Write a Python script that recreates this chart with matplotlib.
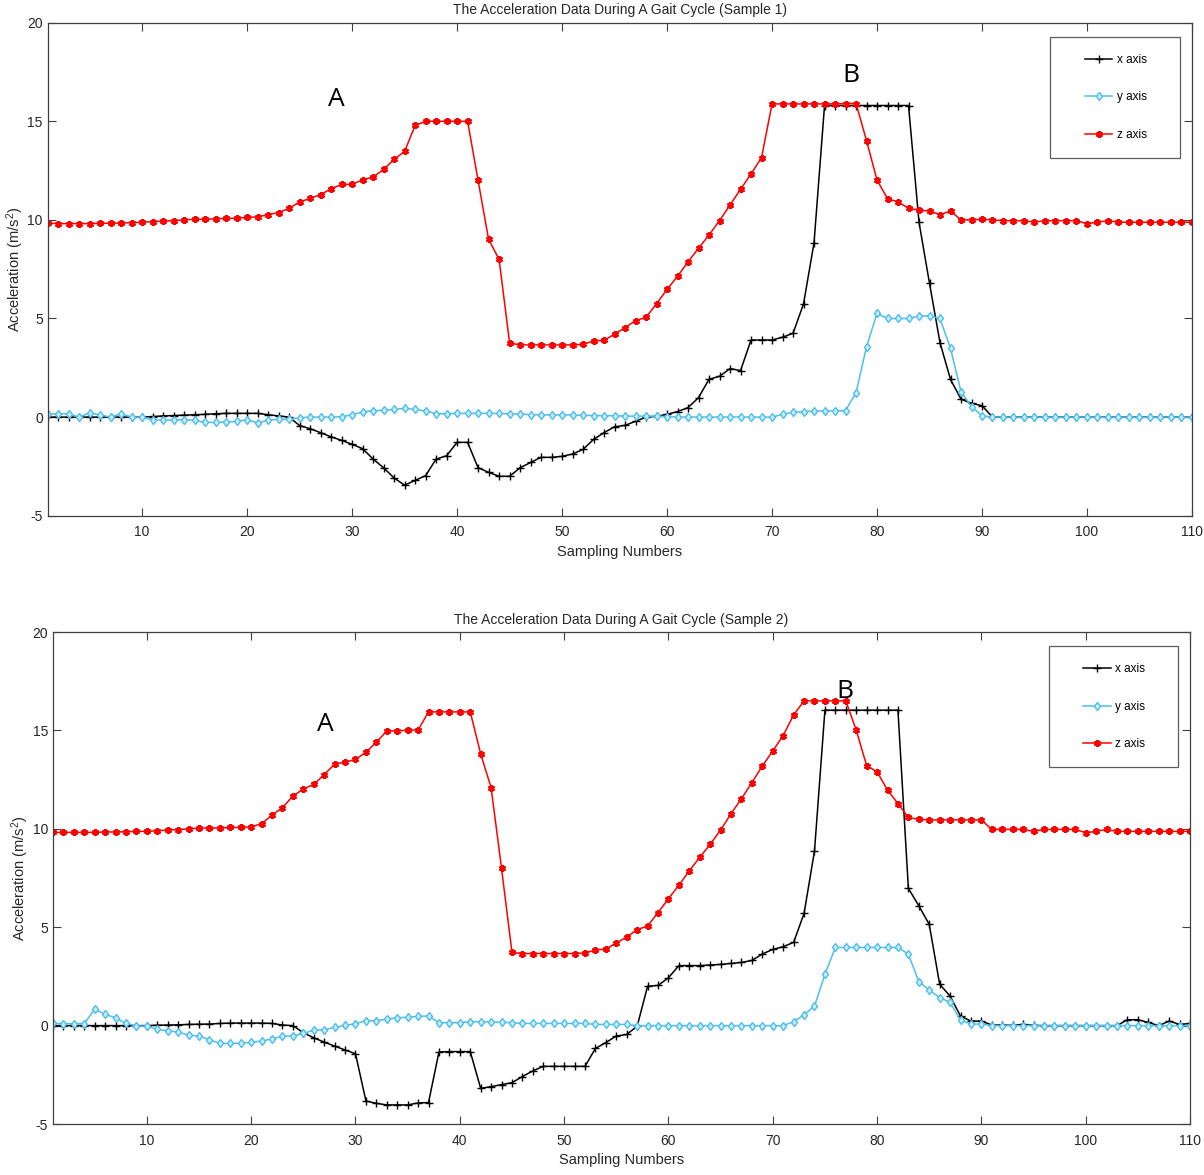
import matplotlib
matplotlib.use("Agg")
import matplotlib.pyplot as plt
from matplotlib.legend_handler import HandlerLine2D
import numpy as np

plt.rcParams['font.family'] = ['Liberation Sans', 'DejaVu Sans']
plt.rcParams['mathtext.default'] = 'regular'
plt.rcParams['axes.unicode_minus'] = False

samples = np.arange(1, 111)

# ---- Sample 1 ----
x1 = [0.0, 0.0, 0.0, 0.0, 0.0, 0.0, 0.0, 0.0, 0.0, 0.0,
      0.03, 0.06, 0.08, 0.1, 0.12, 0.14, 0.17, 0.19, 0.19, 0.19,
      0.19, 0.12, 0.06, 0.0, -0.43, -0.59, -0.79, -1.0, -1.18, -1.38,
      -1.6, -2.13, -2.57, -3.09, -3.45, -3.21, -2.97, -2.13, -1.96, -1.28,
      -1.28, -2.57, -2.8, -3.0, -3.0, -2.57, -2.3, -2.04, -2.04, -1.99,
      -1.87, -1.64, -1.13, -0.79, -0.49, -0.42, -0.21, 0.0, 0.04, 0.14,
      0.28, 0.48, 0.99, 1.92, 2.07, 2.46, 2.36, 3.91, 3.91, 3.91,
      4.05, 4.25, 5.74, 8.84, 15.8, 15.8, 15.8, 15.8, 15.8, 15.8,
      15.8, 15.8, 15.8, 9.88, 6.78, 3.77, 1.91, 0.91, 0.7, 0.58,
      0.0, 0.0, 0.0, 0.0, 0.0, 0.0, 0.0, 0.0, 0.0, 0.0,
      0.0, 0.0, 0.0, 0.0, 0.0, 0.0, 0.0, 0.0, 0.0, 0.0]
y1 = [0.14, 0.17, 0.17, -0.01, 0.22, 0.11, 0.0, 0.17, 0.0, 0.0,
      -0.15, -0.15, -0.15, -0.13, -0.17, -0.27, -0.27, -0.25, -0.22, -0.13,
      -0.3, -0.15, -0.11, -0.11, -0.03, 0.0, 0.0, 0.0, 0.02, 0.12,
      0.26, 0.33, 0.34, 0.39, 0.44, 0.39, 0.31, 0.17, 0.17, 0.19,
      0.19, 0.19, 0.19, 0.19, 0.16, 0.16, 0.12, 0.12, 0.11, 0.11,
      0.11, 0.09, 0.08, 0.07, 0.07, 0.05, 0.05, 0.05, 0.05, 0.02,
      0.0, 0.0, 0.0, 0.0, 0.0, 0.0, 0.0, 0.0, 0.0, 0.0,
      0.14, 0.24, 0.28, 0.31, 0.31, 0.31, 0.33, 1.24, 3.57, 5.26,
      5.0, 5.0, 5.0, 5.13, 5.13, 5.0, 3.48, 1.29, 0.53, 0.07,
      0.0, 0.0, 0.0, 0.0, 0.0, 0.0, 0.0, 0.0, 0.0, 0.0,
      0.0, 0.0, 0.0, 0.0, 0.0, 0.0, 0.0, 0.0, 0.0, 0.0]
z1 = [9.83, 9.81, 9.81, 9.81, 9.81, 9.83, 9.83, 9.84, 9.86, 9.88,
      9.91, 9.94, 9.96, 10.0, 10.03, 10.03, 10.05, 10.08, 10.08, 10.13,
      10.15, 10.27, 10.37, 10.59, 10.91, 11.09, 11.28, 11.58, 11.8, 11.8,
      12.04, 12.17, 12.56, 13.07, 13.47, 14.79, 15.0, 15.0, 15.0, 15.0,
      15.0, 12.0, 9.01, 8.0, 3.76, 3.66, 3.66, 3.66, 3.66, 3.66,
      3.66, 3.69, 3.86, 3.89, 4.21, 4.54, 4.89, 5.06, 5.75, 6.48,
      7.14, 7.88, 8.56, 9.24, 9.96, 10.76, 11.55, 12.33, 13.16, 15.88,
      15.88, 15.88, 15.88, 15.88, 15.88, 15.88, 15.9, 15.9, 14.02, 12.02,
      11.08, 10.91, 10.59, 10.49, 10.45, 10.27, 10.45, 10.0, 10.0, 10.03,
      10.0, 9.96, 9.96, 9.96, 9.88, 9.96, 9.96, 9.96, 9.96, 9.81,
      9.88, 9.96, 9.88, 9.88, 9.88, 9.88, 9.88, 9.88, 9.88, 9.88]

# ---- Sample 2 ----
x2 = [0.0, 0.0, 0.0, 0.0, 0.0, 0.0, 0.0, 0.0, 0.0, 0.0,
      0.02, 0.03, 0.04, 0.06, 0.07, 0.08, 0.11, 0.13, 0.13, 0.13,
      0.13, 0.11, 0.03, 0.0, -0.36, -0.62, -0.84, -1.04, -1.24, -1.43,
      -3.83, -3.95, -4.03, -4.03, -4.03, -3.93, -3.91, -1.34, -1.32, -1.32,
      -1.32, -3.19, -3.1, -3.0, -2.9, -2.59, -2.3, -2.07, -2.07, -2.07,
      -2.07, -2.07, -1.16, -0.86, -0.53, -0.45, -0.03, 2.0, 2.04, 2.43,
      3.05, 3.05, 3.05, 3.08, 3.11, 3.16, 3.21, 3.31, 3.64, 3.87,
      4.01, 4.23, 5.7, 8.87, 16.03, 16.03, 16.03, 16.03, 16.03, 16.03,
      16.03, 16.03, 6.97, 6.09, 5.14, 2.1, 1.5, 0.48, 0.23, 0.23,
      0.03, 0.03, 0.01, 0.06, 0.01, 0.0, 0.0, 0.0, 0.0, 0.0,
      0.0, 0.0, 0.0, 0.3, 0.3, 0.16, 0.0, 0.23, 0.06, 0.11]
y2 = [0.11, 0.1, 0.1, 0.1, 0.84, 0.57, 0.4, 0.11, -0.02, -0.02,
      -0.19, -0.26, -0.33, -0.48, -0.53, -0.72, -0.9, -0.9, -0.9, -0.85,
      -0.78, -0.68, -0.53, -0.53, -0.4, -0.23, -0.21, -0.09, 0.01, 0.1,
      0.25, 0.25, 0.33, 0.4, 0.42, 0.47, 0.49, 0.15, 0.15, 0.15,
      0.2, 0.2, 0.18, 0.17, 0.15, 0.11, 0.11, 0.11, 0.11, 0.11,
      0.11, 0.11, 0.06, 0.06, 0.06, 0.06, 0.0, 0.0, 0.0, 0.0,
      0.0, 0.0, 0.0, 0.0, 0.0, 0.0, 0.0, 0.0, 0.0, 0.0,
      0.0, 0.2, 0.54, 0.99, 2.6, 3.97, 3.97, 3.97, 3.97, 3.97,
      3.97, 3.97, 3.63, 2.23, 1.81, 1.42, 1.18, 0.28, 0.08, 0.08,
      0.0, 0.0, 0.0, 0.0, 0.0, 0.0, 0.0, 0.0, 0.0, 0.0,
      0.0, 0.0, 0.0, 0.0, 0.0, 0.0, 0.0, 0.0, 0.0, 0.0]
z2 = [9.82, 9.82, 9.82, 9.82, 9.82, 9.84, 9.84, 9.85, 9.87, 9.87,
      9.9, 9.94, 9.96, 9.99, 10.04, 10.04, 10.04, 10.07, 10.07, 10.1,
      10.26, 10.7, 11.07, 11.67, 12.02, 12.26, 12.75, 13.29, 13.38, 13.53,
      13.89, 14.4, 14.97, 14.97, 15.02, 15.02, 15.94, 15.94, 15.94, 15.94,
      15.94, 13.81, 12.09, 7.99, 3.72, 3.66, 3.66, 3.66, 3.66, 3.66,
      3.66, 3.69, 3.84, 3.89, 4.2, 4.5, 4.88, 5.06, 5.74, 6.45,
      7.13, 7.87, 8.55, 9.21, 9.94, 10.77, 11.53, 12.35, 13.19, 13.96,
      14.74, 15.79, 16.5, 16.5, 16.5, 16.5, 16.5, 15.02, 13.21, 12.9,
      11.97, 11.28, 10.58, 10.48, 10.45, 10.45, 10.45, 10.45, 10.45, 10.45,
      9.97, 9.97, 9.97, 9.97, 9.87, 9.97, 9.97, 9.97, 9.97, 9.8,
      9.87, 9.97, 9.87, 9.87, 9.87, 9.87, 9.87, 9.87, 9.87, 9.87]

titles = ["The Acceleration Data During A Gait Cycle (Sample 1)",
          "The Acceleration Data During A Gait Cycle (Sample 2)"]
series_labels = ["x axis", "y axis", "z axis"]
xticks = [10, 20, 30, 40, 50, 60, 70, 80, 90, 100, 110]
yticks = [-5, 0, 5, 10, 15, 20]
annots = [[("A", 28.5, 16.1), ("B", 77.5, 17.3)],
          [("A", 27.1, 15.3), ("B", 76.9, 17.0)]]

fig = plt.figure(figsize=(12.04, 11.75), dpi=100)
rects = [[0.0396, 0.5611, 0.9504, 0.4196],
         [0.0440, 0.0434, 0.9444, 0.4187]]

asterisk = (6, 2, 0)
axis_gray = '#404040'
text_col = '#262626'
for i, (xd, yd, zd) in enumerate([(x1, y1, z1), (x2, y2, z2)]):
    ax = fig.add_axes(rects[i])
    ax.plot(samples, xd, color='black', lw=1.1, marker='+', ms=6, mew=1.0,
            label=series_labels[0])
    ax.plot(samples, yd, color='#4DBEEE', lw=1.1, marker='d', ms=4.5, mew=1.0,
            mfc='#CDEBF8', label=series_labels[1])
    ax.plot(samples, zd, color='#FF0000', lw=1.1, marker=asterisk, ms=5, mew=1.6,
            label=series_labels[2])
    ax.set_xlim(1, 110)
    ax.set_ylim(-5, 20)
    ax.set_xticks(xticks)
    ax.set_yticks(yticks)
    ax.tick_params(direction='in', top=True, right=True, length=6, width=0.8,
                   colors=axis_gray, labelcolor=text_col, labelsize=10)
    ax.tick_params(axis='x', pad=7)
    for s in ax.spines.values():
        s.set_color(axis_gray)
        s.set_linewidth(0.9)
    ax.set_title(titles[i], fontsize=10, color=text_col, pad=6)
    ax.set_xlabel("Sampling Numbers", fontsize=10.5, color=text_col, labelpad=4)
    ax.set_ylabel("Acceleration (m/s$^2$)", fontsize=10.5, color=text_col, labelpad=1)
    for (t, tx, ty) in annots[i]:
        ax.text(tx, ty, t, fontsize=19, family='Open Sans', ha='center', va='center',
                color='black')
    handles, labels = ax.get_legend_handles_labels()
    labels = [l + "     " for l in labels]
    leg = ax.legend(handles, labels, loc='upper right',
                    bbox_to_anchor=(0.9895, 0.971), fontsize=8.5,
                    frameon=True, fancybox=False, edgecolor='#333333',
                    labelspacing=2.15, borderpad=1.45, handlelength=3.8,
                    handletextpad=0.35, borderaxespad=0.0,
                    handler_map={h: HandlerLine2D(xpad=1.44) for h in handles})
    leg.get_frame().set_linewidth(0.9)

fig.savefig("out.png", dpi=100)
